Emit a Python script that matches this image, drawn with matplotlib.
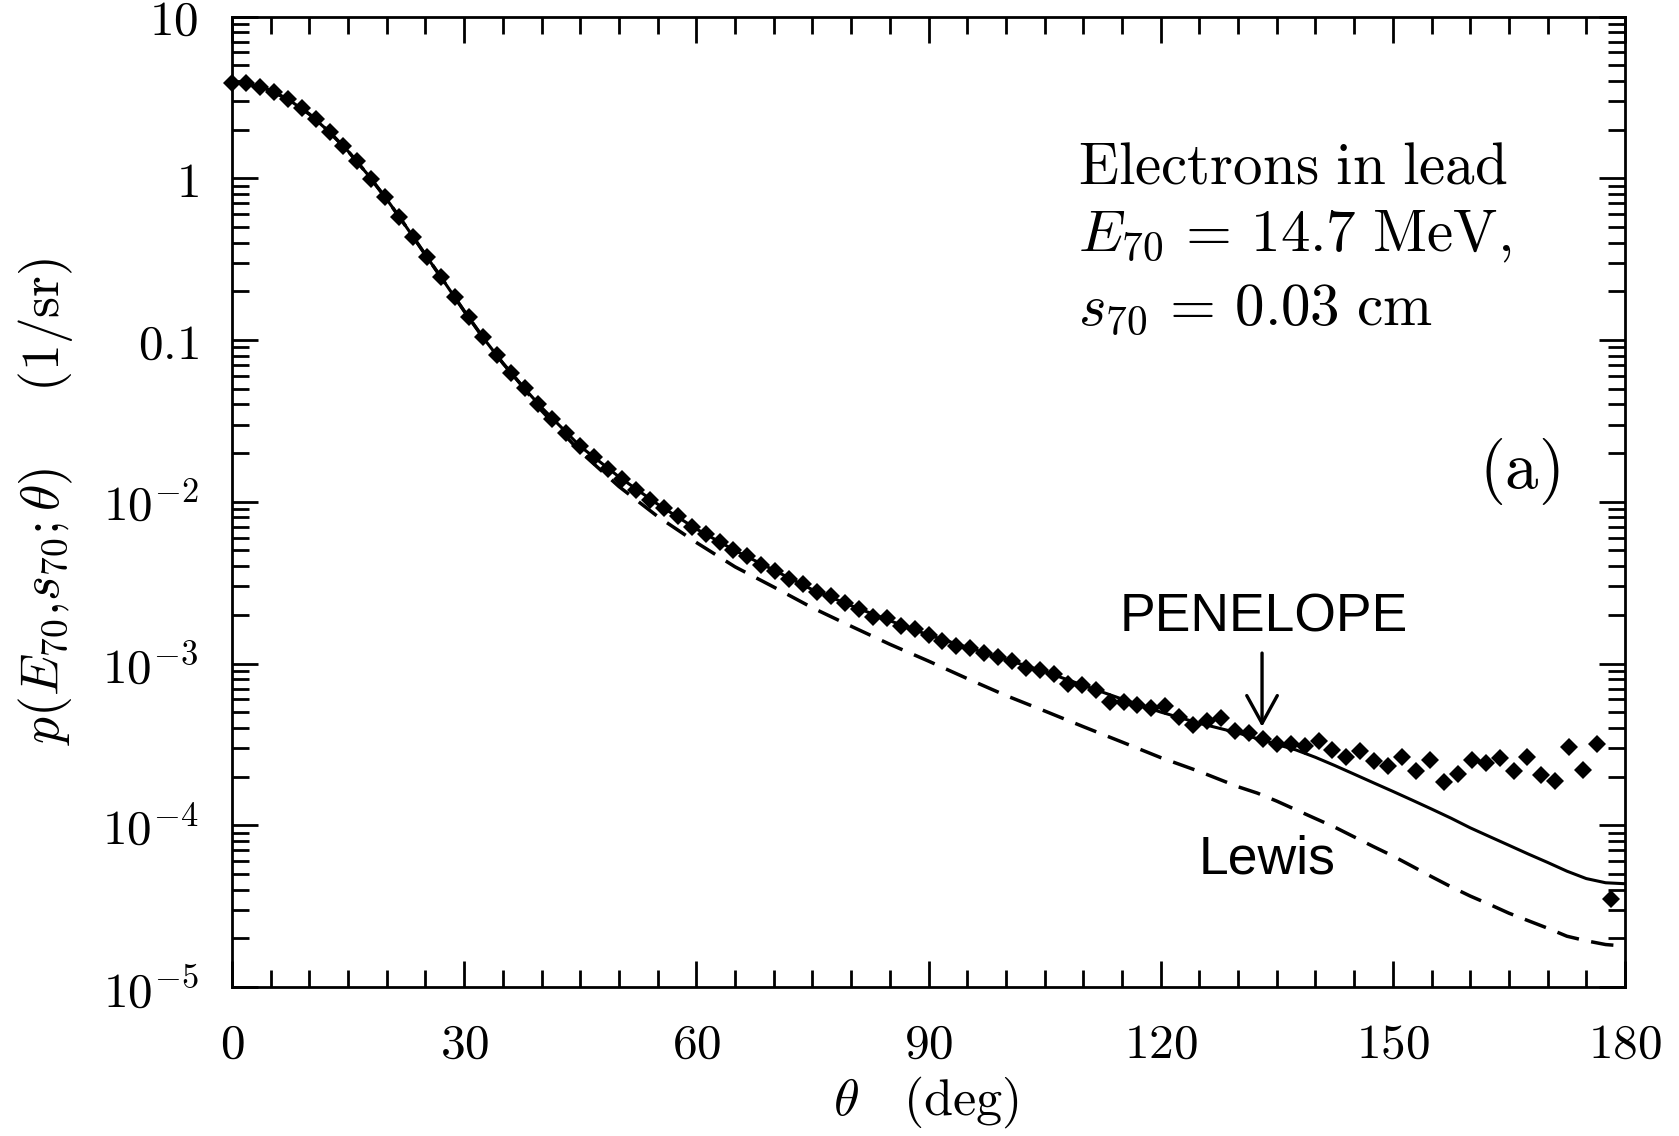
import matplotlib
matplotlib.use('Agg')
import matplotlib.pyplot as plt
from matplotlib.ticker import MultipleLocator, LogLocator, FixedLocator, FixedFormatter, NullFormatter

plt.rcParams['mathtext.fontset'] = 'cm'
plt.rcParams['font.family'] = 'DejaVu Serif'

# Monte Carlo histogram (diamonds), bin grid in degrees
theta_mc = [0.0, 1.8, 3.6, 5.4, 7.2, 9.0, 10.8, 12.6, 14.4, 16.2,
            18.0, 19.8, 21.6, 23.4, 25.2, 27.0, 28.8, 30.6, 32.4, 34.2,
            36.0, 37.8, 39.6, 41.4, 43.2, 45.0, 46.8, 48.6, 50.4, 52.2,
            54.0, 55.8, 57.6, 59.4, 61.2, 63.0, 64.8, 66.6, 68.4, 70.2,
            72.0, 73.8, 75.6, 77.4, 79.2, 81.0, 82.8, 84.6, 86.4, 88.2,
            90.0, 91.8, 93.6, 95.4, 97.2, 99.0, 100.8, 102.6, 104.4, 106.2,
            108.0, 109.8, 111.6, 113.4, 115.2, 117.0, 118.8, 120.6, 122.4, 124.2,
            126.0, 127.8, 129.6, 131.4, 133.2, 135.0, 136.8, 138.6, 140.4, 142.2,
            144.0, 145.8, 147.6, 149.4, 151.2, 153.0, 154.8, 156.6, 158.4, 160.2,
            162.0, 163.8, 165.6, 167.4, 169.2, 171.0, 172.8, 174.6, 176.4, 178.2]
p_mc = [3.90, 3.86, 3.68, 3.43, 3.08, 2.71, 2.33, 1.93, 1.58, 1.27,
        0.99, 0.764, 0.579, 0.436, 0.325, 0.244, 0.184, 0.138, 0.104, 0.0805,
        0.0623, 0.0503, 0.0401, 0.0327, 0.0265, 0.0220, 0.0190, 0.0160, 0.0138, 0.0119,
        0.0103, 0.00921, 0.00811, 0.00703, 0.00634, 0.00560, 0.00505, 0.00459, 0.00407, 0.00374,
        0.00332, 0.00311, 0.00275, 0.00260, 0.00236, 0.00217, 0.00194, 0.00191, 0.00171, 0.00163,
        0.00150, 0.00137, 0.00129, 0.00125, 0.00116, 0.00110, 0.00103, 0.000938, 0.000906, 0.000863,
        0.000750, 0.000738, 0.000687, 0.000582, 0.000574, 0.000556, 0.000530, 0.000547, 0.000470, 0.000418,
        0.000438, 0.000459, 0.000380, 0.000372, 0.000341, 0.000319, 0.000317, 0.000307, 0.000332, 0.000290,
        0.000265, 0.000288, 0.000248, 0.000233, 0.000264, 0.000215, 0.000254, 0.000186, 0.000207, 0.000254,
        0.000244, 0.000262, 0.000215, 0.000266, 0.000205, 0.000188, 0.000303, 0.000220, 0.000318, 0.0000352]

# theory curves (solid and Lewis, dashed)
theta_line = [0, 2.5, 5, 7.5, 10, 12.5, 15, 17.5, 20, 22.5, 25, 27.5, 30, 32.5, 35, 37.5, 40,
              45, 50, 55, 60, 65, 70, 75, 80, 85, 90, 95, 100, 105, 110, 115, 120, 125,
              130, 132.5, 135, 137.5, 140, 142.5, 145, 147.5, 150, 152.5, 155, 157.5,
              160, 162.5, 165, 167.5, 170, 172.5, 175, 177.5, 180]
p_exact = [3.92, 3.78, 3.49, 3.02, 2.49, 1.95, 1.47, 1.06, 0.741, 0.502, 0.336, 0.226, 0.151,
           0.1026, 0.0719, 0.052, 0.0383,
           0.0220, 0.01426, 0.00966, 0.00679, 0.00499, 0.00378, 0.00286, 0.00228, 0.00184,
           0.00150, 0.00126, 0.00106, 0.000891, 0.000733, 0.000603, 0.000501, 0.000427,
           0.000372, 0.000343, 0.000316, 0.000292, 0.000263, 0.000234, 0.000207, 0.000183,
           0.000162, 0.000143, 0.000126, 0.0001107, 0.0000964, 0.0000851, 0.0000752,
           0.0000664, 0.0000589, 0.0000520, 0.0000468, 0.0000441, 0.0000435]
p_lewis = [3.92, 3.78, 3.49, 3.02, 2.49, 1.95, 1.47, 1.06, 0.741, 0.502, 0.336, 0.226, 0.151,
           0.1026, 0.0719, 0.052, 0.0366,
           0.0204, 0.01242, 0.00811, 0.0056, 0.00396, 0.00297, 0.00221, 0.0017, 0.001315,
           0.001035, 0.000807, 0.000634, 0.000509, 0.000407, 0.000327, 0.000262, 0.000215,
           0.000173, 0.000158, 0.000141, 0.0001245, 0.000110, 0.0000973, 0.0000847, 0.0000738,
           0.0000646, 0.0000558, 0.0000481, 0.0000417, 0.0000365, 0.0000324, 0.0000286,
           0.0000257, 0.0000231, 0.0000206, 0.0000193, 0.0000183, 0.0000179]

xtick_values = [0, 30, 60, 90, 120, 150, 180]
ytick_values = [1e-5, 1e-4, 1e-3, 1e-2, 0.1, 1, 10]
ytick_labels = [r'$10^{-5}$', r'$10^{-4}$', r'$10^{-3}$', r'$10^{-2}$', r'$0.1$', r'$1$', r'$10$']

fig = plt.figure(figsize=(16.79, 11.36), dpi=100)
ax = fig.add_axes([232 / 1679, 1 - 987 / 1136, 1393 / 1679, 970.5 / 1136])

ax.plot(theta_line, p_lewis, color='black', lw=2.5, ls=(0, (6.5, 3.6)), zorder=2)
ax.plot(theta_line, p_exact, color='black', lw=2.2, zorder=3)
ax.plot(theta_mc, p_mc, ls='none', marker='D', ms=9.5, mew=0, color='black',
        zorder=4, clip_on=False)

ax.set_yscale('log')
ax.set_xlim(0, 180)
ax.set_ylim(1e-5, 10)

ax.xaxis.set_major_locator(FixedLocator(xtick_values))
ax.xaxis.set_major_formatter(FixedFormatter([r'$%d$' % v for v in xtick_values]))
ax.xaxis.set_minor_locator(MultipleLocator(5))
ax.yaxis.set_major_locator(FixedLocator(ytick_values))
ax.yaxis.set_major_formatter(FixedFormatter(ytick_labels))
ax.yaxis.set_minor_locator(LogLocator(base=10, subs=range(2, 10), numticks=20))
ax.yaxis.set_minor_formatter(NullFormatter())

ax.tick_params(which='both', direction='in', top=True, right=True, width=2.0)
ax.tick_params(which='major', length=19, labelsize=35.5, pad=24)
ax.tick_params(which='minor', length=12)
for s in ax.spines.values():
    s.set_linewidth(2.0)

ax.set_xlabel(r'$\theta\quad(\mathrm{deg})$', fontsize=37.5, va='top')
ax.xaxis.set_label_coords(0.498, -0.09)
ax.set_ylabel(r'$p(E_{70}{,}s_{70}{;}\theta)\quad\;\;(1/\mathrm{sr})$', fontsize=38.5)
ax.yaxis.set_label_coords(-0.113, 0.5)

txt_kw = dict(transform=ax.transAxes, fontsize=42.5, ha='left', va='baseline')
ax.text(0.607, 0.828, r'$\mathrm{Electrons\ in\ lead}$', **txt_kw)
ax.text(0.607, 0.759, r'$E_{70}\,=\,14.7\ \mathrm{MeV,}$', **txt_kw)
ax.text(0.607, 0.682, r'$s_{70}\,=\,0.03\ \mathrm{cm}$', **txt_kw)
ax.text(0.953, 0.531, r'$(\mathrm{a})$', transform=ax.transAxes, fontsize=48,
        ha='right', va='center')

ax.text(0.637, 0.366, 'PENELOPE', transform=ax.transAxes, fontsize=38.5,
        family='Liberation Sans', va='baseline')
ax.text(0.694, 0.117, 'Lewis', transform=ax.transAxes, fontsize=38.5,
        family='Liberation Sans', va='baseline')
ax.annotate('', xy=(133.1, 4.06e-4), xytext=(133.1, 1.16e-3),
            arrowprops=dict(arrowstyle='->,head_length=1.0,head_width=0.55',
                            mutation_scale=20, lw=2.4, color='black',
                            shrinkA=0, shrinkB=0))

plt.savefig('out.png', dpi=100)
